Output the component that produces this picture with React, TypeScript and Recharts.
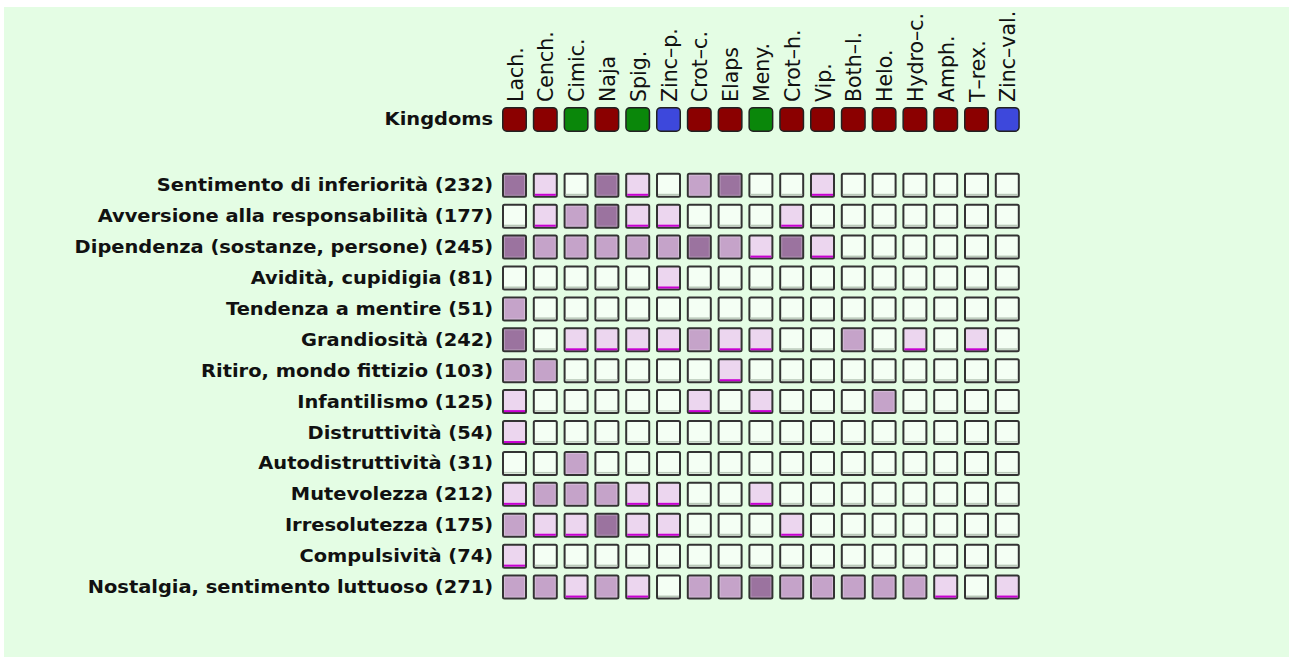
import { ScatterChart, Scatter, XAxis, YAxis } from "recharts";

const remedies = [
  "Lach.", "Cench.", "Cimic.", "Naja", "Spig.", "Zinc–p.", "Crot–c.", "Elaps", "Meny.",
  "Crot–h.", "Vip.", "Both–l.", "Helo.", "Hydro–c.", "Amph.", "T–rex.", "Zinc–val.",
];

// a = animal, p = plant, m = mineral
const kingdoms = ["a", "a", "p", "a", "p", "m", "a", "a", "p", "a", "a", "a", "a", "a", "a", "a", "m"];

const symptoms = [
  "Sentimento di inferiorità",
  "Avversione alla responsabilità",
  "Dipendenza (sostanze, persone)",
  "Avidità, cupidigia",
  "Tendenza a mentire",
  "Grandiosità",
  "Ritiro, mondo fittizio",
  "Infantilismo",
  "Distruttività",
  "Autodistruttività",
  "Mutevolezza",
  "Irresolutezza",
  "Compulsività",
  "Nostalgia, sentimento luttuoso",
];

const counts = [232, 177, 245, 81, 51, 242, 103, 125, 54, 31, 212, 175, 74, 271];

// grade per remedy (0 = absent, 1..3)
const grades = [
  [3, 1, 0, 3, 1, 0, 2, 3, 0, 0, 1, 0, 0, 0, 0, 0, 0],
  [0, 1, 2, 3, 1, 1, 0, 0, 0, 1, 0, 0, 0, 0, 0, 0, 0],
  [3, 2, 2, 2, 2, 2, 3, 2, 1, 3, 1, 0, 0, 0, 0, 0, 0],
  [0, 0, 0, 0, 0, 1, 0, 0, 0, 0, 0, 0, 0, 0, 0, 0, 0],
  [2, 0, 0, 0, 0, 0, 0, 0, 0, 0, 0, 0, 0, 0, 0, 0, 0],
  [3, 0, 1, 1, 1, 1, 2, 1, 1, 0, 0, 2, 0, 1, 0, 1, 0],
  [2, 2, 0, 0, 0, 0, 0, 1, 0, 0, 0, 0, 0, 0, 0, 0, 0],
  [1, 0, 0, 0, 0, 0, 1, 0, 1, 0, 0, 0, 2, 0, 0, 0, 0],
  [1, 0, 0, 0, 0, 0, 0, 0, 0, 0, 0, 0, 0, 0, 0, 0, 0],
  [0, 0, 2, 0, 0, 0, 0, 0, 0, 0, 0, 0, 0, 0, 0, 0, 0],
  [1, 2, 2, 2, 1, 1, 0, 0, 1, 0, 0, 0, 0, 0, 0, 0, 0],
  [2, 1, 1, 3, 1, 1, 0, 0, 0, 1, 0, 0, 0, 0, 0, 0, 0],
  [1, 0, 0, 0, 0, 0, 0, 0, 0, 0, 0, 0, 0, 0, 0, 0, 0],
  [2, 2, 1, 2, 1, 0, 2, 2, 3, 2, 2, 2, 2, 2, 1, 0, 1],
];

const KINGDOM_ROW = -2.13;
const gradeFill = ["#f4fff4", "#ecd6ef", "#c5a3c9", "#9b739f"];
const kingdomFill: Record<string, string> = { a: "#8b0000", p: "#0a870a", m: "#3d48dc" };

const cells = grades.flatMap((row, r) => row.map((g, c) => ({ x: c, y: r, g })));
const kingdomCells = kingdoms.map((k, c) => ({ x: c, y: KINGDOM_ROW, k }));

const S = 12.5;

function GradeCell(props: any) {
  const { cx, cy, payload } = props;
  const g = payload.g;
  return (
    <g>
      <rect x={cx - S + 1} y={cy - S + 1} width={2 * S - 2} height={2 * S - 2} rx={1.5}
        fill={gradeFill[g]} stroke="#333" strokeWidth={2} />
      {g > 1 && (
        <rect x={cx - S + 2.5} y={cy - S + 2.5} width={2 * S - 5} height={2 * S - 5}
          fill="none" stroke="#fff" strokeOpacity={0.25} strokeWidth={1} />
      )}
      {g === 1 && <rect x={cx - S + 2} y={cy + S - 4} width={2 * S - 4} height={2} fill="#c800d2" />}
      {g === 0 && <rect x={cx - S + 2} y={cy + S - 4} width={2 * S - 4} height={1.5} fill="#b9c9b9" />}
    </g>
  );
}

function KingdomCell(props: any) {
  const { cx, cy, payload } = props;
  return (
    <rect x={cx - S + 0.75} y={cy - S + 0.75} width={2 * S - 1.5} height={2 * S - 1.5} rx={4}
      fill={kingdomFill[payload.k]} stroke="#222" strokeWidth={1.5} />
  );
}

function RemedyTick(props: any) {
  const { x, y, payload } = props;
  return (
    <text transform={`translate(${x + 8},${y}) rotate(-90)`} textAnchor="start"
      fontFamily="DejaVu Sans" fontSize={20.5} fill="#111">
      {remedies[payload.value]}
    </text>
  );
}

function SymptomTick(props: any) {
  const { x, y, payload } = props;
  const v = payload.value;
  const label = v === KINGDOM_ROW ? "Kingdoms" : `${symptoms[v]} (${counts[v]})`;
  return (
    <text transform={`translate(${x},${y + 6}) scale(1.08,1)`} textAnchor="end"
      fontFamily="DejaVu Sans" fontWeight="bold" fontSize={18} fill="#111">
      {label}
    </text>
  );
}

export default function App() {
  return (
    <div style={{ position: "absolute", left: 0, top: 0, width: 1289, height: 657, background: "#fff" }}>
      <div style={{ position: "absolute", left: 4, top: 7, right: 0, bottom: 0, background: "#e4fde4" }} />
      <div style={{ position: "absolute", left: 0, top: 0 }}>
        <ScatterChart width={1289} height={657} margin={{ top: 0, right: 266.3, bottom: 54.5, left: 9.1 }}>
          <XAxis type="number" dataKey="x" orientation="top" domain={[-0.5, 16.5]}
            ticks={remedies.map((_, i) => i)} interval={0} height={104}
            axisLine={false} tickLine={false} tickSize={0} tickMargin={2} tick={<RemedyTick />} />
          <YAxis type="number" dataKey="y" domain={[-2.63, 13.5]} reversed
            ticks={[KINGDOM_ROW, ...symptoms.map((_, i) => i)]} interval={0} width={490}
            axisLine={false} tickLine={false} tickSize={0} tickMargin={6} tick={<SymptomTick />} />
          <Scatter data={kingdomCells} shape={<KingdomCell />} isAnimationActive={false} />
          <Scatter data={cells} shape={<GradeCell />} isAnimationActive={false} />
        </ScatterChart>
      </div>
    </div>
  );
}
